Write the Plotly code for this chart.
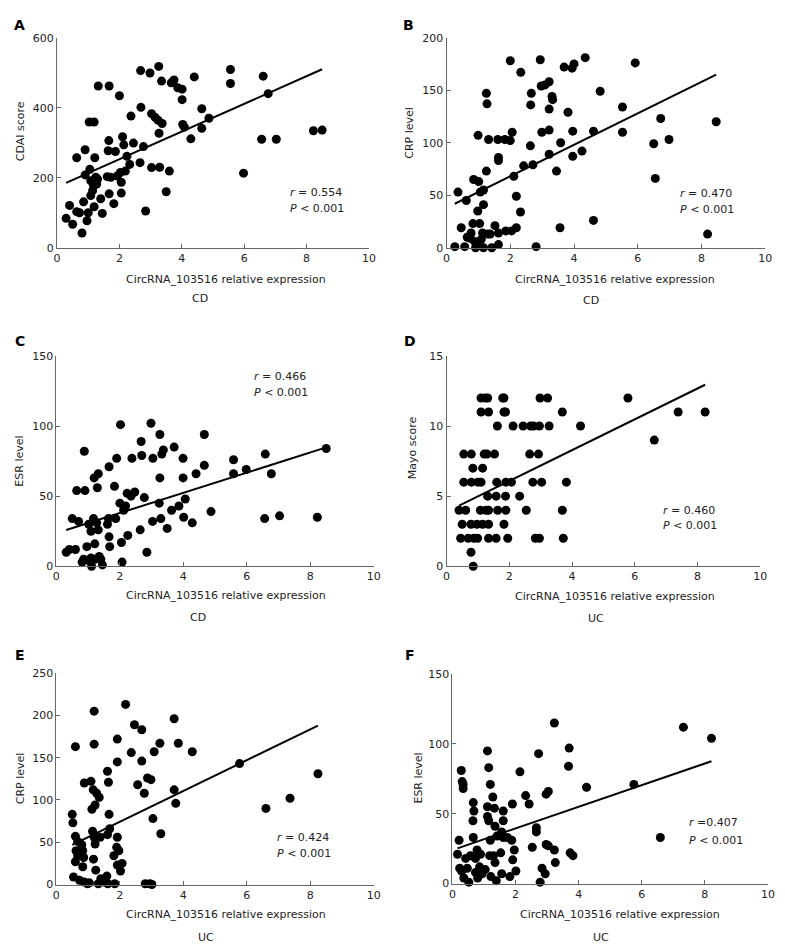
import plotly.graph_objects as go

# ---------------- data ----------------
a_x = [0.29,0.4,0.5,0.63,0.63,0.72,0.8,0.85,0.9,0.9,0.96,1.0,1.03,1.05,1.08,1.08,1.14,1.17,1.19,1.21,1.19,1.24,1.27,1.3,1.32,1.4,1.45,1.61,1.64,1.66,1.67,1.67,1.72,1.82,1.87,1.93,2.0,2.03,2.06,2.06,2.1,2.14,2.19,2.24,2.33,2.37,2.45,2.66,2.68,2.69,2.77,2.84,2.98,3.03,3.03,3.14,3.24,3.26,3.27,3.29,3.35,3.37,3.5,3.6,3.66,3.75,3.87,4.01,4.01,4.03,4.08,4.29,4.4,4.64,4.64,4.87,5.56,5.56,5.98,6.56,6.61,6.77,7.03,8.22,8.5]
a_y = [84,121,67,257,103,100,42,131,208,280,77,100,359,224,149,191,163,177,359,257,117,201,182,196,462,140,98,203,277,306,462,154,201,126,275,205,434,215,187,156,317,294,219,261,238,376,299,243,506,401,289,105,499,383,229,373,364,518,327,230,476,355,160,219,471,479,457,423,453,352,345,311,488,397,341,370,509,469,213,310,490,440,310,334,336]

b_x = [0.26,0.36,0.46,0.57,0.62,0.65,0.75,0.77,0.85,0.83,0.88,0.91,0.98,0.99,1.01,1.04,1.04,1.06,1.09,1.13,1.16,1.16,1.16,1.25,1.27,1.25,1.29,1.32,1.37,1.42,1.52,1.61,1.63,1.63,1.63,1.63,1.83,1.86,2.0,2.0,2.04,2.06,2.11,2.19,2.19,2.32,2.33,2.42,2.63,2.64,2.66,2.71,2.81,2.94,2.97,2.99,3.09,3.22,3.22,3.22,3.22,3.31,3.33,3.45,3.56,3.58,3.69,3.81,3.94,3.96,4.0,3.96,4.25,4.35,4.61,4.61,4.82,5.52,5.52,5.92,6.5,6.55,6.72,6.98,8.19,8.46]
b_y = [1,53,19,1,45,10,9,14,65,23,6,0,35,107,63,23,2,53,8,14,55,41,0,147,137,73,13,103,13,0,21,103,14,3,86,83,103,16,178,102,16,110,68,49,19,34,167,78,97,136,147,79,1,179,154,110,155,158,132,89,112,144,141,73,19,100,172,129,171,87,175,111,92,181,111,26,149,134,110,176,99,66,123,103,13,120]

c_x = [0.31,0.41,0.5,0.6,0.64,0.7,0.81,0.86,0.88,0.9,0.96,1.02,1.02,1.09,1.09,1.11,1.17,1.19,1.21,1.22,1.27,1.29,1.32,1.32,1.35,1.4,1.45,1.61,1.64,1.66,1.66,1.68,1.83,1.87,1.9,2.0,2.02,2.05,2.07,2.12,2.18,2.23,2.25,2.35,2.38,2.47,2.64,2.67,2.69,2.77,2.85,2.98,3.03,3.04,3.24,3.26,3.26,3.29,3.32,3.37,3.49,3.63,3.71,3.86,3.99,3.99,4.01,4.06,4.28,4.4,4.66,4.66,4.87,5.58,5.58,5.98,6.56,6.58,6.77,7.03,8.22,8.5]
c_y = [10,12,34,12,54,32,3,5,82,54,14,30,4,6,25,0,34,63,16,5,31,56,66,26,7,5,1,30,34,71,21,14,57,34,77,45,101,17,3,40,43,52,22,50,77,53,26,89,79,49,10,102,32,77,45,94,63,34,80,83,27,40,85,43,77,63,35,48,31,66,72,94,39,76,66,69,34,80,66,36,35,84]

d_x = [1.1,1.24,1.31,1.79,1.83,2.98,3.22,5.78,
       1.1,1.34,1.83,1.88,3.69,7.38,8.24,
       1.62,2.12,2.44,2.68,2.77,2.96,3.27,4.27,
       6.62,
       0.55,0.79,1.2,1.29,1.53,2.65,2.93,
       0.84,1.15,
       0.55,0.79,1.0,1.1,1.6,1.89,2.07,2.75,3.03,3.82,
       1.31,1.58,1.88,2.33,
       0.4,0.61,1.08,1.26,1.34,1.63,1.89,2.54,3.69,
       0.5,0.78,0.97,1.15,1.34,1.83,
       0.45,0.69,0.87,0.99,1.34,1.58,1.95,2.83,2.96,3.72,
       0.78,
       0.85]
d_y = [12,12,12,12,12,12,12,12,
       11,11,11,11,11,11,11,
       10,10,10,10,10,10,10,10,
       9,
       8,8,8,8,8,8,8,
       7,7,
       6,6,6,6,6,6,6,6,6,6,
       5,5,5,5,
       4,4,4,4,4,4,4,4,4,
       3,3,3,3,3,3,
       2,2,2,2,2,2,2,2,2,2,
       1,
       0]

e_x = [0.5,0.52,0.54,0.6,0.6,0.62,0.6,0.67,0.67,0.73,0.8,0.83,0.83,0.88,0.86,0.88,0.98,1.04,1.09,1.12,1.14,1.16,1.17,1.19,1.19,1.19,1.22,1.22,1.24,1.27,1.35,1.32,1.38,1.4,1.5,1.59,1.61,1.61,1.64,1.66,1.68,1.62,1.81,1.84,1.9,1.92,1.92,1.92,1.92,1.97,2.02,2.07,2.18,2.36,2.46,2.56,2.69,2.69,2.77,2.8,2.87,2.95,2.98,3.01,3.04,3.08,3.26,3.29,3.71,3.71,3.76,3.84,4.28,5.77,6.6,7.36,8.24]
e_y = [83,73,9,163,57,40,27,51,34,5,47,40,21,120,32,3,1,2,122,89,63,112,30,205,166,56,94,48,17,108,103,1,56,7,3,10,59,134,121,83,66,1,34,1,44,172,145,56,23,40,16,25,213,156,189,118,183,146,108,1,126,1,124,0,78,157,167,60,112,196,96,167,157,143,90,102,131]

f_x = [0.16,0.21,0.23,0.29,0.28,0.31,0.34,0.34,0.36,0.42,0.47,0.52,0.57,0.66,0.68,0.65,0.66,0.73,0.73,0.78,0.8,0.86,0.89,0.94,1.04,1.11,1.11,1.15,1.15,1.11,1.18,1.2,1.2,1.22,1.28,1.3,1.33,1.35,1.35,1.39,1.41,1.53,1.56,1.61,1.61,1.61,1.56,1.74,1.82,1.88,1.9,1.91,1.96,2.01,2.14,2.32,2.43,2.53,2.66,2.66,2.73,2.78,2.84,2.94,2.97,2.97,3.04,3.04,3.23,3.26,3.23,3.7,3.68,3.73,3.82,4.25,5.75,6.59,7.32,8.21]
f_y = [21,31,11,9,81,73,71,68,4,18,11,1,20,58,52,45,33,18,8,24,4,12,21,7,10,95,55,83,45,48,20,71,31,5,62,20,54,15,41,2,34,22,37,52,45,33,7,33,5,31,57,17,24,9,80,63,57,26,37,40,93,1,11,7,28,64,66,27,24,15,115,97,84,22,20,69,71,33,112,104]

# regression lines (slope, intercept)
fit_slope = [39.5, 15.0, 7.2, 1.099, 18.2, 7.75]
fit_intercept = [174.0, 38.0, 23.6, 3.89, 37.9, 24.0]

y_titles = ["CDAI score", "CRP level", "ESR level", "Mayo score", "CRP level", "ESR level"]
y_ranges = [600, 200, 150, 15, 250, 150]
y_dticks = [200, 50, 50, 5, 50, 50]
groups = ["CD", "CD", "CD", "UC", "UC", "UC"]
letters = ["A", "B", "C", "D", "E", "F"]
r_texts = ["<i>r</i> = 0.554", "<i>r</i> = 0.470", "<i>r</i> = 0.466", "<i>r</i> = 0.460", "<i>r</i> = 0.424", "<i>r</i> =0.407"]
p_texts = ["<i>P</i> &lt; 0.001"] * 6
x_title = "CircRNA_103516 relative expression"
x_ticks = [0, 2, 4, 6, 8, 10]

xs = [a_x, b_x, c_x, d_x, e_x, f_x]
ys = [a_y, b_y, c_y, d_y, e_y, f_y]

# ---------------- layout geometry (pixels) ----------------
W, H = 785, 945
plot_px = [  # x0, x1, ytop, ybottom
    (45.7, 362, 24, 237),
    (440.7, 764, 24, 237),
    (45, 367, 346.7, 560),
    (440.7, 759, 346.7, 560),
    (45, 367, 668.3, 882.7),
    (446.7, 766.7, 669.3, 881.7),
]
xtitle_pos = [(217, 269), (612, 269), (217, 590), (612, 591), (217, 913), (617, 913)]
group_pos = [(191, 288), (587, 290), (189, 612), (592, 613), (197, 936), (597, 936)]
ytitle_pos = [(8, 119), (403, 120), (8, 453), (407, 440), (8, 775), (412, 775)]
letter_pos = [(0, 11), (395, 11), (1, 332), (396, 332), (1, 650), (397, 650)]
rp_pos = [(280, 181, 197), (675, 182, 198), (243, 368, 384), (658, 503, 519), (267, 835, 851), (685, 820, 838)]

FONT = "DejaVu Sans"
TXT = "#222"
AX = "#666"
fig = go.Figure()
annotations = []

for i in range(6):
    k = "" if i == 0 else str(i + 1)
    xa, ya = "x" + k, "y" + k
    x0, x1, yt, yb = plot_px[i]
    fig.add_trace(go.Scatter(
        x=xs[i], y=ys[i], mode="markers", xaxis=xa, yaxis=ya,
        marker=dict(color="black", size=9, line=dict(width=0)),
        cliponaxis=False, showlegend=False, hoverinfo="x+y"))
    lx = [min(xs[i]), max(xs[i])]
    ly = [fit_intercept[i] + fit_slope[i] * v for v in lx]
    fig.add_trace(go.Scatter(
        x=lx, y=ly, mode="lines", xaxis=xa, yaxis=ya,
        line=dict(color="black", width=2), showlegend=False, hoverinfo="skip"))
    axis_common = dict(showgrid=False, zeroline=False, showline=True,
                       linecolor=AX, linewidth=1, ticks="inside",
                       ticklen=4, tickcolor=AX,
                       tickfont=dict(family=FONT, size=11, color=TXT))
    fig.update_layout(**{
        "xaxis" + k: dict(domain=[x0 / W, x1 / W], range=[0, 10], tickvals=x_ticks,
                          anchor=ya, **axis_common),
        "yaxis" + k: dict(domain=[1 - yb / H, 1 - yt / H], range=[0, y_ranges[i]],
                          dtick=y_dticks[i], anchor=xa, **axis_common),
    })
    tx, ty = xtitle_pos[i]
    annotations.append(dict(x=tx / W, y=1 - ty / H, xref="paper", yref="paper",
                            text=x_title, showarrow=False, xanchor="center", yanchor="middle",
                            font=dict(family=FONT, size=11, color=TXT)))
    gx, gy = group_pos[i]
    annotations.append(dict(x=gx / W, y=1 - gy / H, xref="paper", yref="paper",
                            text=groups[i], showarrow=False, xanchor="center", yanchor="middle",
                            font=dict(family=FONT, size=11, color=TXT)))
    yx, yy = ytitle_pos[i]
    annotations.append(dict(x=yx / W, y=1 - yy / H, xref="paper", yref="paper",
                            text=y_titles[i], showarrow=False, textangle=-90,
                            xanchor="center", yanchor="middle",
                            font=dict(family=FONT, size=11, color=TXT)))
    lxp, lyp = letter_pos[i]
    annotations.append(dict(x=lxp / W, y=1 - lyp / H, xref="paper", yref="paper",
                            text="<b>" + letters[i] + "</b>", showarrow=False,
                            xanchor="left", yanchor="middle",
                            font=dict(family=FONT, size=14, color="black")))
    rx, ry, py = rp_pos[i]
    annotations.append(dict(x=rx / W, y=1 - ry / H, xref="paper", yref="paper",
                            text=r_texts[i], showarrow=False, xanchor="left", yanchor="middle",
                            font=dict(family=FONT, size=11, color=TXT)))
    annotations.append(dict(x=rx / W, y=1 - py / H, xref="paper", yref="paper",
                            text=p_texts[i], showarrow=False, xanchor="left", yanchor="middle",
                            font=dict(family=FONT, size=11, color=TXT)))

fig.update_layout(width=W, height=H, margin=dict(l=0, r=0, t=0, b=0),
                  paper_bgcolor="white", plot_bgcolor="white",
                  annotations=annotations, font=dict(family=FONT))
fig.write_html("out.html")
